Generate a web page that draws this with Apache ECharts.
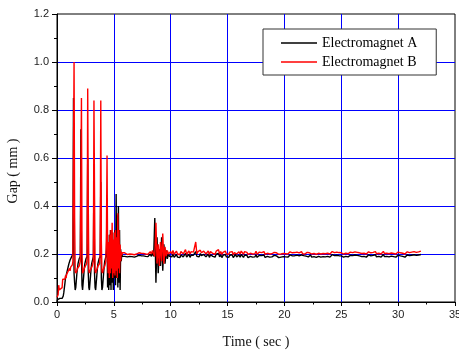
<!DOCTYPE html>
<html>
<head>
<meta charset="utf-8">
<script src="https://cdn.jsdelivr.net/npm/echarts@6/dist/echarts.min.js"></script>
<style>
  html, body { margin: 0; padding: 0; background: #fff; }
  #chart { width: 459px; height: 351px; }
</style>
</head>
<body>
<div id="chart"></div>
<script>
// sampling: 0 - 5.95 s every 0.05 s, then 6.0 - 32.0 s every 0.1 s
const earlyStep = 0.05;
const lateStart = 6.0;
const lateStep = 0.1;

const xTicks = ['0', '5', '10', '15', '20', '25', '30', '35'];
const yTicks = ['0.0', '0.2', '0.4', '0.6', '0.8', '1.0', '1.2'];

// Electromagnet A (black), 0 - 5.95 s
const gapAEarly = [
  0.00, 0.01, 0.01, 0.015, 0.01, 0.015, 0.01, 0.015, 0.02, 0.015,
  0.02, 0.025, 0.04, 0.06, 0.08, 0.10, 0.11, 0.12, 0.125, 0.14,
  0.15, 0.16, 0.165, 0.175, 0.18, 0.185, 0.19, 0.19, 0.20, 0.85,
  0.12, 0.08, 0.05, 0.06, 0.09, 0.12, 0.14, 0.16, 0.17, 0.18,
  0.185, 0.19, 0.72, 0.20, 0.07, 0.05, 0.08, 0.11, 0.14, 0.16,
  0.17, 0.18, 0.185, 0.19, 0.60, 0.12, 0.06, 0.05, 0.08, 0.11,
  0.14, 0.16, 0.17, 0.18, 0.19, 0.55, 0.12, 0.06, 0.05, 0.08,
  0.11, 0.14, 0.16, 0.17, 0.18, 0.185, 0.19, 0.50, 0.10, 0.05,
  0.06, 0.09, 0.12, 0.15, 0.17, 0.18, 0.19, 0.22, 0.30, 0.06,
  0.20, 0.05, 0.28, 0.07, 0.30, 0.05, 0.26, 0.08, 0.29, 0.05,
  0.24, 0.10, 0.30, 0.07, 0.45, 0.10, 0.36, 0.06, 0.40, 0.08,
  0.30, 0.05, 0.22, 0.17, 0.20, 0.19, 0.195, 0.19, 0.195, 0.19
];

// Electromagnet A (black), 6.0 - 32.0 s
const gapALate = [
  0.19, 0.195, 0.188, 0.193, 0.19, 0.196, 0.189, 0.192, 0.187, 0.194,
  0.19, 0.188, 0.195, 0.19, 0.193, 0.186, 0.192, 0.196, 0.19, 0.193,
  0.189, 0.195, 0.2, 0.19, 0.205, 0.19, 0.35, 0.08, 0.27, 0.12,
  0.22, 0.15, 0.27, 0.13, 0.24, 0.16, 0.215, 0.18, 0.20, 0.19,
  0.195, 0.188, 0.2, 0.186, 0.194, 0.198, 0.187, 0.195, 0.185, 0.196,
  0.2, 0.188, 0.195, 0.203, 0.187, 0.194, 0.199, 0.186, 0.196, 0.19,
  0.195, 0.2, 0.21, 0.19, 0.197, 0.188, 0.202, 0.193, 0.186, 0.198,
  0.203, 0.188, 0.196, 0.2, 0.186, 0.197, 0.202, 0.19, 0.195, 0.187,
  0.199, 0.192, 0.203, 0.188, 0.197, 0.185, 0.194, 0.189, 0.198, 0.188,
  0.193, 0.186, 0.195, 0.19, 0.197, 0.185, 0.193, 0.199, 0.188, 0.192,
  0.196, 0.187, 0.198, 0.19, 0.186, 0.196, 0.189, 0.194, 0.185, 0.192,
  0.19, 0.196, 0.187, 0.193, 0.188, 0.197, 0.186, 0.191, 0.195, 0.187,
  0.193, 0.189, 0.196, 0.186, 0.192, 0.19, 0.195, 0.187, 0.193, 0.188,
  0.191, 0.194, 0.187, 0.192, 0.186, 0.185, 0.19, 0.187, 0.193, 0.189,
  0.192, 0.188, 0.194, 0.187, 0.191, 0.196, 0.188, 0.192, 0.186, 0.193,
  0.189, 0.195, 0.187, 0.192, 0.19, 0.196, 0.188, 0.193, 0.187, 0.191,
  0.194, 0.188, 0.192, 0.196, 0.187, 0.191, 0.189, 0.195, 0.186, 0.192,
  0.19, 0.194, 0.187, 0.193, 0.189, 0.196, 0.188, 0.192, 0.19, 0.195,
  0.187, 0.192, 0.197, 0.189, 0.193, 0.187, 0.195, 0.19, 0.193, 0.188,
  0.192, 0.196, 0.187, 0.193, 0.19, 0.197, 0.188, 0.192, 0.195, 0.189,
  0.193, 0.187, 0.196, 0.19, 0.194, 0.188, 0.192, 0.197, 0.189, 0.193,
  0.19, 0.195, 0.187, 0.193, 0.196, 0.189, 0.192, 0.187, 0.194, 0.191,
  0.197, 0.188, 0.193, 0.19, 0.195, 0.187, 0.192, 0.198, 0.189, 0.194,
  0.19, 0.196, 0.188, 0.193, 0.191, 0.197, 0.189, 0.194, 0.187, 0.193,
  0.195, 0.189, 0.192, 0.197, 0.19, 0.194, 0.187, 0.193, 0.196, 0.19,
  0.193, 0.188, 0.195, 0.191, 0.197, 0.19, 0.194, 0.192, 0.196, 0.193,
  0.198
];

// Electromagnet B (red), 0 - 5.95 s
const gapBEarly = [
  0.02, 0.02, 0.03, 0.07, 0.05, 0.05, 0.045, 0.05, 0.05, 0.06,
  0.095, 0.10, 0.09, 0.10, 0.095, 0.11, 0.10, 0.115, 0.12, 0.115,
  0.13, 0.125, 0.14, 0.13, 0.145, 0.14, 0.15, 0.155, 0.17, 0.60,
  1.00, 0.35, 0.13, 0.12, 0.125, 0.13, 0.14, 0.135, 0.145, 0.15,
  0.155, 0.17, 0.50, 0.85, 0.20, 0.12, 0.125, 0.13, 0.14, 0.145,
  0.15, 0.155, 0.16, 0.18, 0.89, 0.40, 0.13, 0.12, 0.13, 0.135,
  0.14, 0.145, 0.15, 0.155, 0.17, 0.84, 0.45, 0.13, 0.12, 0.13,
  0.135, 0.14, 0.15, 0.15, 0.155, 0.16, 0.20, 0.84, 0.25, 0.13,
  0.12, 0.13, 0.14, 0.145, 0.15, 0.16, 0.17, 0.30, 0.61, 0.20,
  0.12, 0.25, 0.10, 0.28, 0.12, 0.30, 0.14, 0.33, 0.10, 0.26,
  0.12, 0.29, 0.11, 0.30, 0.13, 0.27, 0.10, 0.37, 0.14, 0.30,
  0.12, 0.24, 0.17, 0.21, 0.195, 0.205, 0.20, 0.205, 0.20, 0.205
];

// Electromagnet B (red), 6.0 - 32.0 s
const gapBLate = [
  0.20, 0.205, 0.198, 0.203, 0.20, 0.206, 0.199, 0.202, 0.197, 0.204,
  0.20, 0.198, 0.205, 0.20, 0.203, 0.196, 0.202, 0.207, 0.20, 0.204,
  0.199, 0.206, 0.21, 0.20, 0.215, 0.20, 0.19, 0.33, 0.16, 0.24,
  0.15, 0.25, 0.17, 0.285, 0.16, 0.23, 0.19, 0.215, 0.20, 0.205,
  0.21, 0.20, 0.215, 0.198, 0.205, 0.212, 0.20, 0.208, 0.197, 0.21,
  0.215, 0.20, 0.208, 0.218, 0.199, 0.205, 0.213, 0.20, 0.21, 0.202,
  0.208, 0.215, 0.25, 0.20, 0.21, 0.202, 0.216, 0.205, 0.198, 0.212,
  0.218, 0.20, 0.207, 0.213, 0.198, 0.21, 0.216, 0.202, 0.208, 0.199,
  0.212, 0.205, 0.218, 0.20, 0.21, 0.198, 0.207, 0.202, 0.212, 0.20,
  0.205, 0.199, 0.208, 0.202, 0.21, 0.197, 0.206, 0.214, 0.20, 0.204,
  0.209, 0.20, 0.212, 0.204, 0.199, 0.21, 0.202, 0.207, 0.198, 0.205,
  0.203, 0.209, 0.20, 0.206, 0.201, 0.211, 0.199, 0.204, 0.208, 0.20,
  0.206, 0.202, 0.21, 0.199, 0.205, 0.203, 0.208, 0.20, 0.206, 0.201,
  0.204, 0.207, 0.20, 0.205, 0.20, 0.199, 0.203, 0.20, 0.206, 0.202,
  0.205, 0.201, 0.207, 0.20, 0.204, 0.209, 0.201, 0.205, 0.199, 0.206,
  0.202, 0.208, 0.20, 0.205, 0.203, 0.21, 0.201, 0.206, 0.20, 0.204,
  0.207, 0.201, 0.205, 0.209, 0.20, 0.204, 0.202, 0.208, 0.199, 0.205,
  0.203, 0.207, 0.20, 0.206, 0.202, 0.209, 0.201, 0.205, 0.203, 0.208,
  0.20, 0.205, 0.21, 0.202, 0.206, 0.20, 0.208, 0.203, 0.206, 0.201,
  0.205, 0.209, 0.20, 0.206, 0.203, 0.211, 0.201, 0.205, 0.208, 0.202,
  0.206, 0.20, 0.209, 0.203, 0.207, 0.201, 0.205, 0.21, 0.202, 0.206,
  0.203, 0.208, 0.20, 0.206, 0.209, 0.202, 0.205, 0.20, 0.207, 0.204,
  0.21, 0.201, 0.206, 0.203, 0.208, 0.20, 0.205, 0.211, 0.202, 0.207,
  0.203, 0.209, 0.201, 0.206, 0.204, 0.21, 0.202, 0.207, 0.20, 0.206,
  0.208, 0.202, 0.205, 0.21, 0.203, 0.207, 0.20, 0.206, 0.209, 0.203,
  0.206, 0.201, 0.208, 0.204, 0.21, 0.203, 0.207, 0.205, 0.209, 0.206,
  0.212
];

function toPairs(early, late) {
  const out = [];
  early.forEach((v, i) => out.push([+(i * earlyStep).toFixed(2), v]));
  late.forEach((v, i) => out.push([+(lateStart + i * lateStep).toFixed(2), v]));
  return out;
}

const chart = echarts.init(document.getElementById('chart'), null, { renderer: 'canvas' });

const serif = '"Liberation Serif", "Times New Roman", serif';
const sans = '"Liberation Sans", Arial, sans-serif';

const option = {
  animation: false,
  backgroundColor: '#fff',
  grid: {
    left: 57, right: 4, top: 14, bottom: 49,
    outerBoundsMode: 'none',
    show: true,
    borderColor: '#000',
    borderWidth: 1
  },
  legend: {
    orient: 'vertical',
    left: 263,
    top: 29,
    padding: [7, 19, 6, 18],
    itemGap: 5,
    itemWidth: 36,
    itemHeight: 1.5,
    itemTextGap: 4,
    icon: 'rect',
    backgroundColor: '#fff',
    borderColor: '#333',
    borderWidth: 1,
    textStyle: { fontFamily: serif, fontSize: 14, color: '#000' },
    data: ['Electromagnet A', 'Electromagnet B']
  },
  xAxis: {
    type: 'value',
    min: 0, max: 35, interval: 5,
    name: 'Time ( sec )',
    nameLocation: 'middle',
    nameGap: 33,
    nameTextStyle: { fontFamily: serif, fontSize: 14, color: '#111' },
    axisLine: { lineStyle: { color: '#000', width: 1 } },
    axisTick: { inside: false, length: 4, lineStyle: { color: '#000' } },
    minorTick: { show: true, splitNumber: 2, length: 2.5, lineStyle: { color: '#000' } },
    axisLabel: {
      margin: 7, fontFamily: sans, fontSize: 11, color: '#222',
      formatter: (v) => xTicks[Math.round(v / 5)]
    },
    splitLine: {
      show: true, showMinLine: false, showMaxLine: false,
      lineStyle: { color: '#0000ff', width: 1 }
    }
  },
  yAxis: {
    type: 'value',
    min: 0, max: 1.2, interval: 0.2,
    name: 'Gap ( mm )',
    nameLocation: 'middle',
    nameGap: 37,
    nameTextStyle: { fontFamily: serif, fontSize: 14, color: '#111', padding: [0, 26, 0, 0] },
    axisLine: { show: true, lineStyle: { color: '#000', width: 1 } },
    axisTick: { show: true, inside: false, length: 5, lineStyle: { color: '#000' } },
    minorTick: { show: true, splitNumber: 2, length: 3, lineStyle: { color: '#000' } },
    axisLabel: {
      margin: 8, fontFamily: sans, fontSize: 11, color: '#222',
      formatter: (v) => yTicks[Math.round(v / 0.2)]
    },
    splitLine: {
      show: true, showMinLine: false, showMaxLine: false,
      lineStyle: { color: '#0000ff', width: 1 }
    }
  },
  series: [{
    name: 'Electromagnet A',
    type: 'line',
    showSymbol: false,
    symbol: 'none',
    color: '#000',
    lineStyle: { color: '#000', width: 1.4 },
    data: toPairs(gapAEarly, gapALate)
  }, {
    name: 'Electromagnet B',
    type: 'line',
    showSymbol: false,
    symbol: 'none',
    color: '#ff0000',
    lineStyle: { color: '#ff0000', width: 1.4 },
    data: toPairs(gapBEarly, gapBLate)
  }]
};

chart.setOption(option);
</script>
</body>
</html>
